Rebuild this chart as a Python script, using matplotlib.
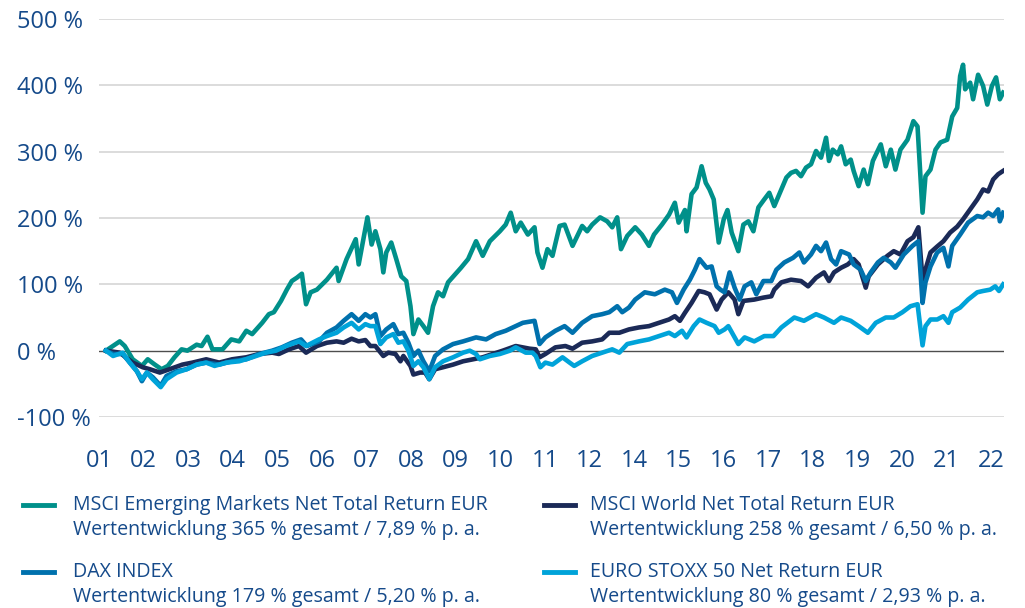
import matplotlib
matplotlib.use("Agg")
import matplotlib.pyplot as plt
from matplotlib.lines import Line2D
import numpy as np

# Werte (Jahr, Wertentwicklung in %)
em_t = [2001.00, 2001.33, 2001.45, 2001.64, 2001.86, 2002.00, 2002.17, 2002.33, 2002.48, 2002.64,
        2002.81, 2002.95, 2003.17, 2003.29, 2003.43, 2003.55, 2003.79, 2004.00, 2004.19, 2004.36,
        2004.50, 2004.74, 2004.90, 2005.02, 2005.19, 2005.33, 2005.45, 2005.57, 2005.69, 2005.79,
        2005.90, 2006.05, 2006.29, 2006.52, 2006.57, 2006.76, 2006.98, 2007.05, 2007.17, 2007.26,
        2007.36, 2007.45, 2007.57, 2007.64, 2007.71, 2007.83, 2007.95, 2008.07, 2008.19, 2008.29,
        2008.36, 2008.48, 2008.60, 2008.71, 2008.83, 2008.95, 2009.07, 2009.19, 2009.36, 2009.50,
        2009.67, 2009.86, 2010.02, 2010.19, 2010.43, 2010.57, 2010.69, 2010.81, 2010.93, 2011.10,
        2011.26, 2011.33, 2011.45, 2011.57, 2011.69, 2011.86, 2011.98, 2012.17, 2012.40, 2012.52,
        2012.64, 2012.83, 2013.00, 2013.12, 2013.24, 2013.33, 2013.48, 2013.67, 2013.83, 2014.00,
        2014.12, 2014.31, 2014.48, 2014.62, 2014.71, 2014.86, 2014.90, 2015.02, 2015.14, 2015.26,
        2015.36, 2015.45, 2015.55, 2015.67, 2015.79, 2015.88, 2015.98, 2016.14, 2016.26, 2016.38,
        2016.50, 2016.62, 2016.76, 2016.88, 2017.00, 2017.17, 2017.29, 2017.40, 2017.52, 2017.64,
        2017.76, 2017.88, 2018.00, 2018.12, 2018.24, 2018.31, 2018.40, 2018.52, 2018.60, 2018.71,
        2018.83, 2018.90, 2019.02, 2019.14, 2019.24, 2019.36, 2019.55, 2019.67, 2019.79, 2019.90,
        2020.02, 2020.19, 2020.33, 2020.43, 2020.50, 2020.55, 2020.62, 2020.74, 2020.86, 2020.98,
        2021.14, 2021.26, 2021.38, 2021.45, 2021.52, 2021.57, 2021.69, 2021.76, 2021.88, 2022.00,
        2022.10, 2022.21, 2022.31, 2022.40, 2022.48]
em_v = [0, 14, 7, -13, -23, -13, -21, -28, -23, -10,
        2, 0, 9, 7, 21, 2, 2, 17, 14, 30,
        25, 42, 55, 58, 75, 92, 105, 110, 116, 70,
        88, 92, 107, 125, 105, 138, 168, 130, 171, 201,
        160, 180, 153, 118, 148, 163, 138, 112, 105, 67,
        25, 47, 37, 27, 67, 88, 82, 103, 115, 125,
        138, 165, 143, 165, 180, 190, 208, 180, 193, 175,
        186, 148, 125, 153, 143, 188, 190, 158, 188, 180,
        190, 201, 195, 186, 201, 153, 173, 186, 175, 158,
        175, 190, 205, 223, 193, 212, 180, 236, 246, 278,
        253, 243, 228, 163, 198, 212, 178, 150, 190, 195,
        180, 216, 228, 238, 218, 243, 261, 268, 271, 263,
        276, 281, 301, 291, 321, 286, 303, 296, 308, 281,
        288, 271, 248, 273, 251, 286, 311, 278, 303, 273,
        303, 318, 346, 338, 263, 208, 263, 273, 303, 314,
        318, 353, 366, 414, 431, 394, 404, 379, 416, 399,
        371, 399, 412, 379, 389]

world_t = [2001.00, 2001.33, 2001.64, 2001.88, 2002.05, 2002.29, 2002.52, 2002.83, 2003.07, 2003.40,
           2003.71, 2004.02, 2004.36, 2004.67, 2004.98, 2005.14, 2005.38, 2005.62, 2005.79, 2006.05,
           2006.29, 2006.52, 2006.69, 2006.88, 2007.05, 2007.21, 2007.33, 2007.45, 2007.64, 2007.76,
           2007.93, 2008.05, 2008.12, 2008.29, 2008.36, 2008.52, 2008.64, 2008.74, 2008.88, 2009.07,
           2009.31, 2009.55, 2009.79, 2010.02, 2010.26, 2010.50, 2010.81, 2011.14, 2011.29, 2011.38,
           2011.52, 2011.76, 2012.00, 2012.17, 2012.40, 2012.64, 2012.88, 2013.05, 2013.29, 2013.52,
           2013.76, 2014.00, 2014.24, 2014.48, 2014.62, 2014.74, 2014.86, 2015.02, 2015.19, 2015.33,
           2015.45, 2015.62, 2015.74, 2015.90, 2016.05, 2016.14, 2016.26, 2016.52, 2016.74, 2016.93,
           2017.00, 2017.17, 2017.40, 2017.64, 2017.81, 2018.00, 2018.19, 2018.31, 2018.43, 2018.60,
           2018.76, 2018.90, 2019.02, 2019.19, 2019.26, 2019.48, 2019.71, 2019.86, 2020.02, 2020.19,
           2020.33, 2020.45, 2020.55, 2020.67, 2020.74, 2020.90, 2021.05, 2021.21, 2021.38, 2021.52,
           2021.69, 2021.86, 2022.00, 2022.12, 2022.24, 2022.36, 2022.48]
world_v = [0, -3, -18, -25, -28, -33, -28, -21, -18, -13,
           -18, -13, -10, -5, -3, -5, 2, 7, -3, 7,
           12, 14, 12, 18, 14, 16, 7, 7, -8, -3,
           -5, -16, -8, -23, -36, -33, -33, -43, -28, -25,
           -21, -16, -13, -10, -5, 0, 7, 3, 2, -10,
           -5, 5, 7, 3, 12, 14, 17, 27, 27, 32,
           35, 37, 42, 47, 52, 45, 57, 72, 90, 88,
           85, 62, 77, 88, 77, 55, 75, 77, 80, 82,
           92, 103, 107, 105, 97, 110, 118, 105, 118, 125,
           130, 138, 130, 95, 112, 130, 143, 150, 145, 165,
           171, 186, 107, 133, 148, 157, 165, 178, 187, 198,
           213, 228, 243, 240, 258, 266, 271]

dax_t = [2001.00, 2001.17, 2001.40, 2001.57, 2001.74, 2001.86, 2001.98, 2002.12, 2002.31, 2002.45,
         2002.69, 2002.93, 2003.17, 2003.40, 2003.71, 2004.02, 2004.36, 2004.67, 2004.98, 2005.21,
         2005.45, 2005.67, 2005.81, 2006.10, 2006.29, 2006.52, 2006.69, 2006.88, 2007.05, 2007.21,
         2007.33, 2007.45, 2007.57, 2007.71, 2007.88, 2008.00, 2008.12, 2008.24, 2008.36, 2008.48,
         2008.60, 2008.74, 2008.88, 2009.07, 2009.31, 2009.55, 2009.86, 2010.10, 2010.33, 2010.57,
         2010.81, 2010.98, 2011.26, 2011.38, 2011.52, 2011.76, 2011.98, 2012.17, 2012.40, 2012.64,
         2012.88, 2013.05, 2013.24, 2013.36, 2013.52, 2013.67, 2013.90, 2014.14, 2014.38, 2014.55,
         2014.67, 2014.83, 2014.98, 2015.10, 2015.21, 2015.38, 2015.50, 2015.62, 2015.71, 2015.81,
         2015.93, 2016.05, 2016.17, 2016.29, 2016.45, 2016.57, 2016.74, 2016.93, 2017.05, 2017.24,
         2017.45, 2017.60, 2017.71, 2017.88, 2018.00, 2018.12, 2018.24, 2018.36, 2018.48, 2018.60,
         2018.79, 2018.90, 2019.07, 2019.19, 2019.31, 2019.48, 2019.62, 2019.79, 2019.90, 2020.10,
         2020.31, 2020.45, 2020.55, 2020.62, 2020.74, 2020.90, 2021.05, 2021.17, 2021.26, 2021.45,
         2021.64, 2021.86, 2022.00, 2022.12, 2022.24, 2022.36, 2022.40, 2022.48]
dax_v = [0, -5, -5, -18, -31, -46, -33, -40, -53, -38,
         -31, -28, -21, -18, -21, -16, -13, -5, 0, 5,
         12, 17, 7, 14, 27, 35, 45, 55, 45, 55,
         50, 55, 22, 32, 40, 25, 27, 12, -8, 0,
         -16, -31, -8, 2, 10, 14, 20, 17, 25, 30,
         37, 42, 45, 10, 20, 30, 37, 27, 42, 52,
         55, 58, 67, 58, 65, 77, 88, 85, 92, 88,
         72, 92, 107, 122, 138, 125, 127, 97, 92, 88,
         118, 95, 77, 97, 103, 85, 105, 105, 122, 133,
         140, 148, 133, 145, 158, 150, 163, 138, 130, 150,
         145, 130, 122, 105, 118, 133, 140, 133, 125, 145,
         158, 165, 72, 103, 127, 148, 155, 127, 158, 175,
         193, 203, 201, 208, 203, 213, 195, 208]

stoxx_t = [2001.00, 2001.17, 2001.40, 2001.57, 2001.74, 2001.86, 2001.98, 2002.12, 2002.31, 2002.45,
           2002.69, 2002.93, 2003.17, 2003.40, 2003.60, 2003.88, 2004.19, 2004.50, 2004.83, 2005.07,
           2005.31, 2005.62, 2005.79, 2006.10, 2006.29, 2006.52, 2006.69, 2006.88, 2007.05, 2007.21,
           2007.33, 2007.45, 2007.57, 2007.71, 2007.88, 2008.00, 2008.12, 2008.24, 2008.36, 2008.48,
           2008.60, 2008.74, 2008.88, 2009.07, 2009.31, 2009.55, 2009.71, 2009.86, 2009.95, 2010.19,
           2010.43, 2010.67, 2010.81, 2010.90, 2011.05, 2011.21, 2011.29, 2011.40, 2011.52, 2011.69,
           2011.93, 2012.10, 2012.21, 2012.40, 2012.64, 2012.88, 2013.12, 2013.29, 2013.48, 2013.76,
           2014.00, 2014.24, 2014.48, 2014.62, 2014.79, 2014.90, 2015.07, 2015.21, 2015.38, 2015.57,
           2015.67, 2015.81, 2015.90, 2016.14, 2016.29, 2016.52, 2016.76, 2016.98, 2017.17, 2017.48,
           2017.71, 2018.00, 2018.19, 2018.43, 2018.60, 2018.83, 2019.02, 2019.24, 2019.43, 2019.67,
           2019.86, 2020.07, 2020.26, 2020.43, 2020.55, 2020.62, 2020.74, 2020.90, 2021.05, 2021.17,
           2021.26, 2021.45, 2021.64, 2021.86, 2022.00, 2022.17, 2022.29, 2022.38, 2022.48]
stoxx_v = [0, -8, -3, -18, -31, -43, -33, -43, -55, -43,
           -33, -28, -21, -18, -23, -18, -16, -10, -3, 0,
           7, 14, 7, 17, 22, 27, 35, 42, 32, 40,
           37, 37, 10, 20, 25, 12, 14, 0, -23, -16,
           -25, -43, -25, -16, -10, -3, 0, -5, -13, -8,
           -5, 0, 5, 2, -3, -3, -8, -25, -18, -21,
           -10, -18, -23, -16, -8, -3, 2, -3, 10, 14,
           17, 22, 27, 22, 30, 20, 37, 47, 42, 37,
           27, 32, 37, 10, 20, 14, 22, 22, 35, 50,
           45, 55, 50, 42, 50, 45, 37, 27, 42, 50,
           50, 58, 67, 70, 8, 37, 47, 47, 52, 42,
           58, 65, 77, 88, 90, 92, 97, 90, 100]

year_labels = ["01", "02", "03", "04", "05", "06", "07", "08", "09", "10", "11",
               "12", "14", "15", "16", "17", "18", "19", "20", "21", "22"]
y_ticks = [-100, 0, 100, 200, 300, 400, 500]

names = ["MSCI Emerging Markets Net Total Return EUR", "DAX INDEX",
         "MSCI World Net Total Return EUR", "EURO STOXX 50 Net Return EUR"]
perf = ["Wertentwicklung 365 % gesamt / 7,89 % p. a.", "Wertentwicklung 179 % gesamt / 5,20 % p. a.",
        "Wertentwicklung 258 % gesamt / 6,50 % p. a.", "Wertentwicklung 80 % gesamt / 2,93 % p. a."]

c_em, c_world, c_dax, c_stoxx = "#00908a", "#1b2a57", "#0071ad", "#00a3d9"
txt = "#154a8a"

plt.rcParams['font.family'] = ['Open Sans', 'DejaVu Sans']

fig = plt.figure(figsize=(10.25, 6.08), dpi=100)
ax = fig.add_axes([99 / 1025, 1 - 417 / 608, 905 / 1025, 398 / 608])

for y in y_ticks:
    if y != 0:
        ax.axhline(y, color="#d9d9d9", lw=1.3, zorder=0)
ax.axhline(0, color="#4d4d4d", lw=1.0, zorder=1)

ax.plot(em_t, em_v, color=c_em, lw=3.3, solid_joinstyle='round', zorder=2)
ax.plot(world_t, world_v, color=c_world, lw=3.3, solid_joinstyle='round', zorder=3)
ax.plot(dax_t, dax_v, color=c_dax, lw=3.3, solid_joinstyle='round', zorder=4)
ax.plot(stoxx_t, stoxx_v, color=c_stoxx, lw=3.3, solid_joinstyle='round', zorder=5)

ax.set_xlim(2000.952, 2022.50)
ax.set_ylim(-100, 500)
ax.set_xticks(np.linspace(2000.833, 2022.19, len(year_labels)))
ax.set_xticklabels(year_labels)
ax.set_yticks(y_ticks)
ax.set_yticklabels([f"{v} %" for v in y_ticks])
for lab in ax.get_yticklabels():
    lab.set_horizontalalignment('left')
ax.tick_params(axis='y', length=0, pad=59, labelsize=17, labelcolor=txt)
ax.tick_params(axis='x', length=0, pad=23, labelsize=17, labelcolor=txt)
for s in ax.spines.values():
    s.set_visible(False)

# Legende
cols = [(23, 73), (23, 73), (544, 590), (544, 590)]
rows = [505, 572, 505, 572]
colors = [c_em, c_dax, c_world, c_stoxx]
for i in range(4):
    x0, xt = cols[i]
    y0 = 1 - rows[i] / 608
    fig.add_artist(Line2D([x0 / 1025, (x0 + 31) / 1025], [y0, y0], color=colors[i], lw=3.5))
    fig.text(xt / 1025, y0, names[i], fontsize=14.1, color=txt, va='center')
    fig.text(xt / 1025, 1 - (rows[i] + 25) / 608, perf[i], fontsize=14.1, color=txt, va='center')

fig.savefig("out.png", dpi=100)
